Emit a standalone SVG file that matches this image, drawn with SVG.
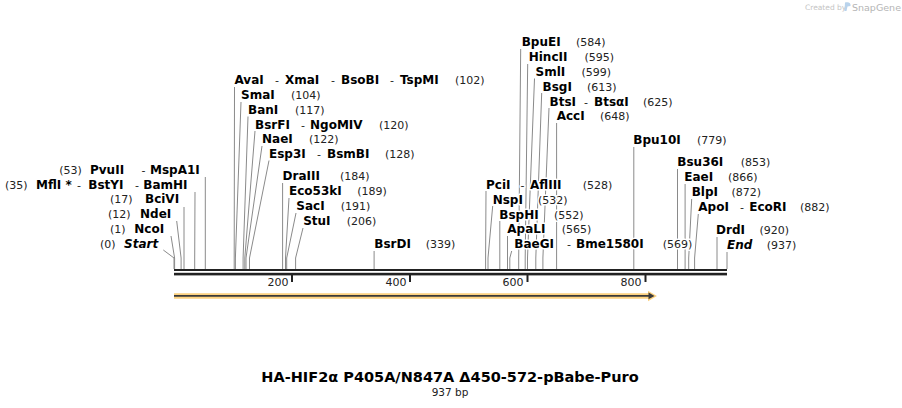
<svg xmlns="http://www.w3.org/2000/svg" width="902" height="408" viewBox="0 0 902 408">
<style>
text{font-family:"DejaVu Sans","Verdana",sans-serif;fill:#000}
.lbl{stroke:#fff;stroke-width:3;stroke-linejoin:round;paint-order:stroke}
.b{font-weight:bold;font-size:12px}
.it{font-weight:bold;font-style:italic;font-size:12px}
.n{font-size:11px;fill:#222}
.d{font-size:11px;fill:#222}
.ln{fill:none;stroke:#8a8a8a;stroke-width:1}
.tk{font-size:11px;fill:#222}
.ttl{font-weight:bold;font-size:14.5px;text-anchor:middle}
.sub{font-size:10.5px;text-anchor:middle;fill:#222}
</style>
<rect width="902" height="408" fill="#fff"/>

<!-- logo -->
<g id="logo">
<text x="805" y="10" style="font-size:7.5px;fill:#c4c4c4">Created by</text>
<path d="M845,2.5 C849,1.5 851,3 850.5,6 L847.5,6.5 L846.5,11 L844.5,11 Z" fill="#b9d3ec"/>
<text x="852" y="10.5" style="font-size:9.5px;fill:#b5b5b5">SnapGene</text>
</g>

<!-- connectors -->
<g id="connectors">
<path class="ln" d="M163.3,250 L174,258 V269"/>
<path class="ln" d="M171,236 L174.6,258 V269"/>
<path class="ln" d="M176.7,221 L181.1,258 V269"/>
<path class="ln" d="M184,207 V269"/>
<path class="ln" d="M195,192 L194.7,258 V269"/>
<path class="ln" d="M205.3,177 V269"/>
<path class="ln" d="M234.5,87 L234.2,258 V269"/>
<path class="ln" d="M241,102 L235.4,258 V269"/>
<path class="ln" d="M248,116.5 L243.1,258 V269"/>
<path class="ln" d="M255,131 L244.8,258 V269"/>
<path class="ln" d="M262,146 L246,258 V269"/>
<path class="ln" d="M269,160.5 L249.5,258 V269"/>
<path class="ln" d="M282.6,183 V269"/>
<path class="ln" d="M289,198 L285.5,258 V269"/>
<path class="ln" d="M296,213 L286.7,258 V269"/>
<path class="ln" d="M303,228 L295.6,258 V269"/>
<path class="ln" d="M374.1,251 V269"/>
<path class="ln" d="M520.7,49 L518.7,258 V269"/>
<path class="ln" d="M527.7,64 L525.2,258 V269"/>
<path class="ln" d="M534.5,78.5 L527.5,258 V269"/>
<path class="ln" d="M541.7,93 L535.8,258 V269"/>
<path class="ln" d="M549,108 L542.9,258 V269"/>
<path class="ln" d="M556.6,123 V269"/>
<path class="ln" d="M633.8,147 V269"/>
<path class="ln" d="M486,191 L485.6,258 V269"/>
<path class="ln" d="M492.7,206 L488,258 V269"/>
<path class="ln" d="M499.8,221 V269"/>
<path class="ln" d="M507.5,236 V269"/>
<path class="ln" d="M511.7,251 L509.8,258 V269"/>
<path class="ln" d="M677.5,169 V269"/>
<path class="ln" d="M685.1,184 V269"/>
<path class="ln" d="M691.7,199 L688.7,258 V269"/>
<path class="ln" d="M698.3,214 L694.6,258 V269"/>
<path class="ln" d="M717,237 V269"/>
<path class="ln" d="M727,252 V269"/>
</g>

<!-- ruler -->
<g id="ruler">
<rect x="174" y="269" width="553" height="2" fill="#222"/>
<rect x="174" y="272.8" width="553" height="2.6" fill="#222"/>
<rect x="291" y="275" width="2" height="7" fill="#222"/>
<rect x="409" y="275" width="2" height="7" fill="#222"/>
<rect x="526.5" y="275" width="2" height="7" fill="#222"/>
<rect x="644.5" y="275" width="2" height="7" fill="#222"/>
<text class="tk" x="288.5" y="286" text-anchor="end">200</text>
<text class="tk" x="406.5" y="286" text-anchor="end">400</text>
<text class="tk" x="523.5" y="286" text-anchor="end">600</text>
<text class="tk" x="641.5" y="286" text-anchor="end">800</text>
</g>

<!-- feature arrow -->
<g id="feature">
<path d="M174,293.2 H648 V290.7 L657,296 L648,301.3 V298.8 H174 Z" fill="#fcd17f"/>
<path d="M174,295.9 H649" stroke="#3a3a3a" stroke-width="1.8" fill="none"/>
<path d="M648.5,292.6 L654.5,295.9 L648.5,299.2 Z" fill="#3a3a3a"/>
</g>

<!-- left sites -->
<g id="site-PvuII"><text class="lbl" y="174"><tspan class="n" x="59.3">(53)</tspan><tspan class="b" x="90">PvuII</tspan><tspan class="d" x="141.5">-</tspan><tspan class="b" x="150">MspA1I</tspan></text></g>
<g id="site-MflI"><text class="lbl" y="188.5"><tspan class="n" x="5">(35)</tspan><tspan class="b" x="36">MflI</tspan><tspan class="b" x="65.5">*</tspan><tspan class="d" x="77">-</tspan><tspan class="b" x="88.3">BstYI</tspan><tspan class="d" x="135">-</tspan><tspan class="b" x="143.3">BamHI</tspan></text></g>
<g id="site-BciVI"><text class="lbl" y="203"><tspan class="n" x="110">(17)</tspan><tspan class="b" x="145">BciVI</tspan></text></g>
<g id="site-NdeI"><text class="lbl" y="218"><tspan class="n" x="108">(12)</tspan><tspan class="b" x="140">NdeI</tspan></text></g>
<g id="site-NcoI"><text class="lbl" y="233"><tspan class="n" x="110">(1)</tspan><tspan class="b" x="134.3">NcoI</tspan></text></g>
<g id="site-Start"><text class="lbl" y="248"><tspan class="n" x="100">(0)</tspan><tspan class="it" x="124">Start</tspan></text></g>

<!-- middle sites -->
<g id="site-AvaI"><text class="lbl" y="84"><tspan class="b" x="234.5">AvaI</tspan><tspan class="d" x="275">-</tspan><tspan class="b" x="285">XmaI</tspan><tspan class="d" x="331">-</tspan><tspan class="b" x="341">BsoBI</tspan><tspan class="d" x="390">-</tspan><tspan class="b" x="400">TspMI</tspan><tspan class="n" x="455">(102)</tspan></text></g>
<g id="site-SmaI"><text class="lbl" y="99"><tspan class="b" x="241">SmaI</tspan><tspan class="n" x="291">(104)</tspan></text></g>
<g id="site-BanI"><text class="lbl" y="113.5"><tspan class="b" x="248">BanI</tspan><tspan class="n" x="295">(117)</tspan></text></g>
<g id="site-BsrFI"><text class="lbl" y="128.5"><tspan class="b" x="255">BsrFI</tspan><tspan class="d" x="301">-</tspan><tspan class="b" x="310">NgoMIV</tspan><tspan class="n" x="379">(120)</tspan></text></g>
<g id="site-NaeI"><text class="lbl" y="143"><tspan class="b" x="262">NaeI</tspan><tspan class="n" x="309">(122)</tspan></text></g>
<g id="site-Esp3I"><text class="lbl" y="157.5"><tspan class="b" x="269">Esp3I</tspan><tspan class="d" x="317">-</tspan><tspan class="b" x="327">BsmBI</tspan><tspan class="n" x="385">(128)</tspan></text></g>
<g id="site-DraIII"><text class="lbl" y="180"><tspan class="b" x="282.6">DraIII</tspan><tspan class="n" x="340">(184)</tspan></text></g>
<g id="site-Eco53kI"><text class="lbl" y="195"><tspan class="b" x="289">Eco53kI</tspan><tspan class="n" x="357.3">(189)</tspan></text></g>
<g id="site-SacI"><text class="lbl" y="210"><tspan class="b" x="296.3">SacI</tspan><tspan class="n" x="340.7">(191)</tspan></text></g>
<g id="site-StuI"><text class="lbl" y="225"><tspan class="b" x="303.2">StuI</tspan><tspan class="n" x="346.7">(206)</tspan></text></g>
<g id="site-BsrDI"><text class="lbl" y="248"><tspan class="b" x="374.3">BsrDI</tspan><tspan class="n" x="425.7">(339)</tspan></text></g>

<!-- right upper sites -->
<g id="site-BpuEI"><text class="lbl" y="46"><tspan class="b" x="521.7">BpuEI</tspan><tspan class="n" x="576">(584)</tspan></text></g>
<g id="site-HincII"><text class="lbl" y="61"><tspan class="b" x="528.7">HincII</tspan><tspan class="n" x="584.5">(595)</tspan></text></g>
<g id="site-SmlI"><text class="lbl" y="75.5"><tspan class="b" x="535.5">SmlI</tspan><tspan class="n" x="581.5">(599)</tspan></text></g>
<g id="site-BsgI"><text class="lbl" y="90.5"><tspan class="b" x="542.5">BsgI</tspan><tspan class="n" x="587">(613)</tspan></text></g>
<g id="site-BtsI"><text class="lbl" y="105.5"><tspan class="b" x="549.5">BtsI</tspan><tspan class="d" x="584">-</tspan><tspan class="b" x="594">BtsαI</tspan><tspan class="n" x="643">(625)</tspan></text></g>
<g id="site-AccI"><text class="lbl" y="120"><tspan class="b" x="556.7">AccI</tspan><tspan class="n" x="600">(648)</tspan></text></g>
<g id="site-Bpu10I"><text class="lbl" y="144"><tspan class="b" x="633.3">Bpu10I</tspan><tspan class="n" x="697">(779)</tspan></text></g>

<!-- right lower-middle sites -->
<g id="site-PciI"><text class="lbl" y="188.5"><tspan class="b" x="486">PciI</tspan><tspan class="d" x="520.5">-</tspan><tspan class="b" x="530">AflIII</tspan><tspan class="n" x="582.7">(528)</tspan></text></g>
<g id="site-NspI"><text class="lbl" y="203.5"><tspan class="b" x="492.7">NspI</tspan><tspan class="n" x="538">(532)</tspan></text></g>
<g id="site-BspHI"><text class="lbl" y="218.5"><tspan class="b" x="499.3">BspHI</tspan><tspan class="n" x="554">(552)</tspan></text></g>
<g id="site-ApaLI"><text class="lbl" y="233"><tspan class="b" x="507.3">ApaLI</tspan><tspan class="n" x="561.7">(565)</tspan></text></g>
<g id="site-BaeGI"><text class="lbl" y="248"><tspan class="b" x="514.3">BaeGI</tspan><tspan class="d" x="567">-</tspan><tspan class="b" x="576">Bme1580I</tspan><tspan class="n" x="662.7">(569)</tspan></text></g>

<!-- right sites -->
<g id="site-Bsu36I"><text class="lbl" y="166"><tspan class="b" x="677.3">Bsu36I</tspan><tspan class="n" x="740.7">(853)</tspan></text></g>
<g id="site-EaeI"><text class="lbl" y="181"><tspan class="b" x="684.3">EaeI</tspan><tspan class="n" x="728">(866)</tspan></text></g>
<g id="site-BlpI"><text class="lbl" y="196"><tspan class="b" x="691.7">BlpI</tspan><tspan class="n" x="731.5">(872)</tspan></text></g>
<g id="site-ApoI"><text class="lbl" y="211"><tspan class="b" x="698.3">ApoI</tspan><tspan class="d" x="740">-</tspan><tspan class="b" x="749.3">EcoRI</tspan><tspan class="n" x="800">(882)</tspan></text></g>
<g id="site-DrdI"><text class="lbl" y="234"><tspan class="b" x="716">DrdI</tspan><tspan class="n" x="759.5">(920)</tspan></text></g>
<g id="site-End"><text class="lbl" y="249"><tspan class="it" x="727">End</tspan><tspan class="n" x="766.7">(937)</tspan></text></g>

<!-- title -->
<g id="title">
<text class="ttl" x="450" y="382">HA-HIF2α P405A/N847A Δ450-572-pBabe-Puro</text>
<text class="sub" x="450" y="396">937 bp</text>
</g>
</svg>
